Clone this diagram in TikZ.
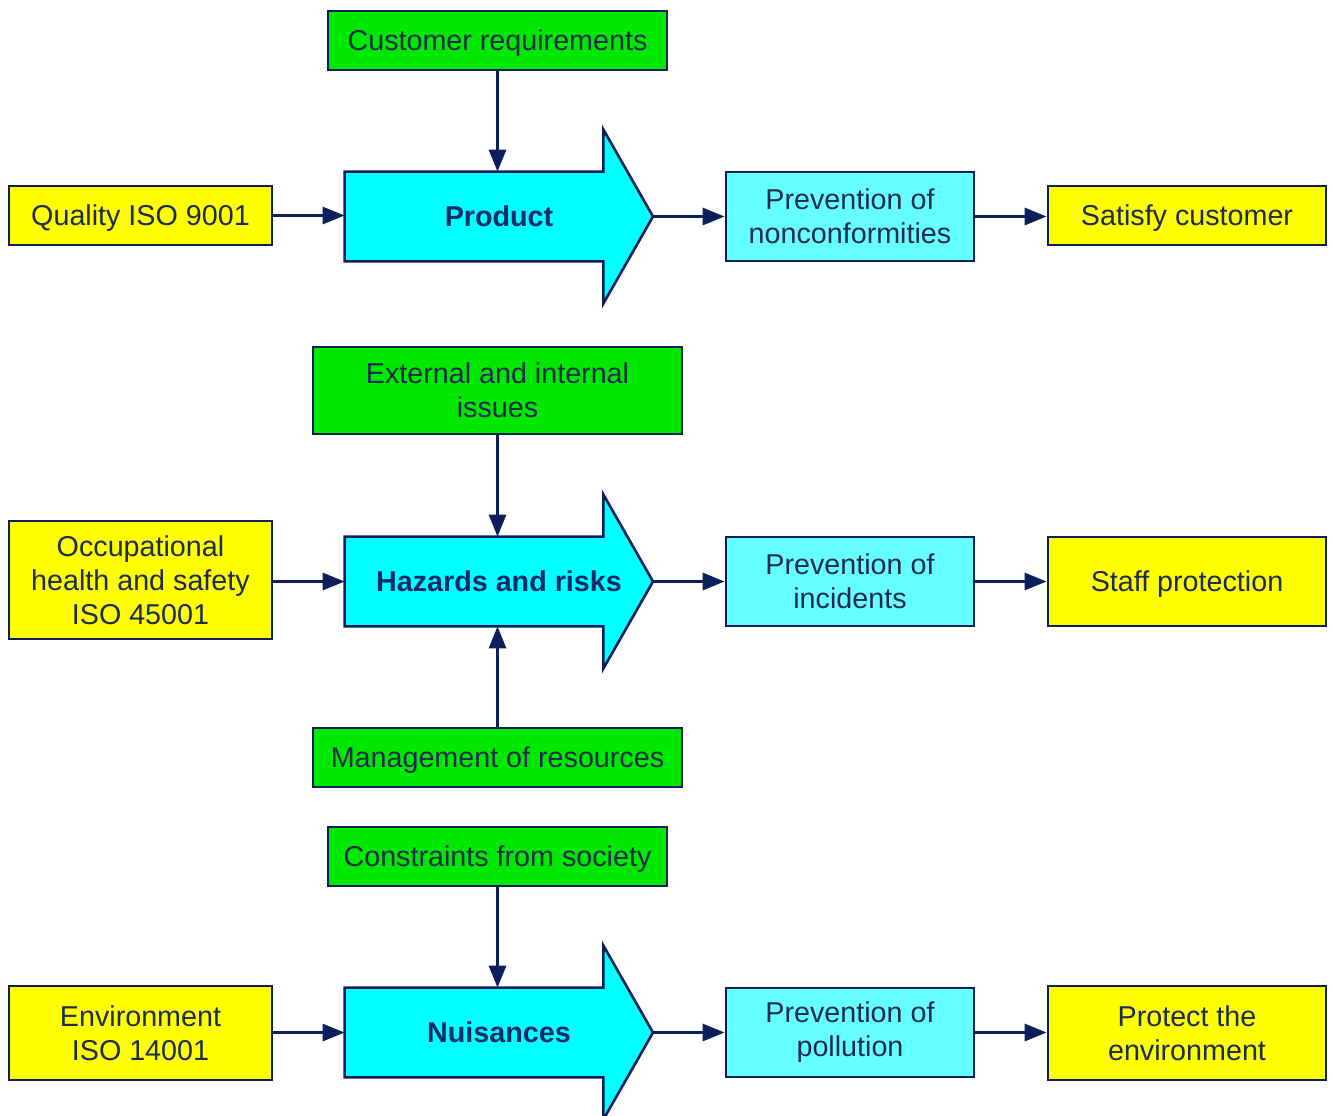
\documentclass[tikz,border=0pt]{standalone}
\usepackage{fontspec}
\setmainfont{Liberation Sans}
\usetikzlibrary{arrows.meta}
\definecolor{navy}{HTML}{0C1F5A}
\definecolor{txt}{HTML}{1D2C4C}
\definecolor{btxt}{HTML}{0D2A6A}
\definecolor{yel}{HTML}{FFFF00}
\definecolor{grn}{HTML}{00E800}
\definecolor{cyn}{HTML}{00FFFF}
\definecolor{lcyn}{HTML}{66FFFF}
\tikzset{
 box/.style={draw=navy, line width=1.4pt, inner sep=0pt, align=center, text=txt, font=\fontsize{14.35}{17}\selectfont},
 ybox/.style={box, fill=yel},
 gbox/.style={box, fill=grn},
 cbox/.style={box, fill=lcyn},
 oneline/.style={text depth=0pt},
 bigarrow/.style={draw=navy, fill=cyn, line width=1.3pt, line join=miter},
 bodybox/.style={inner sep=0pt, minimum width=129pt, minimum height=44.5pt},
 atext/.style={font=\bfseries\fontsize{14.35}{17}\selectfont, text=btxt},
 conn/.style={draw=navy, line width=1.5pt, -{Triangle[length=11pt,width=8.5pt]}},
}
\begin{document}
\begin{tikzpicture}[x=0.5pt,y=-0.5pt]
\useasboundingbox (0,0) rectangle (1332,1115);
\clip (0,0) rectangle (1332,1115);
\fill[white] (0,0) rectangle (1332,1115);

% ---------- Row 1 ----------
\node[bodybox] (b1) at (474,216.5) {};
\coordinate (t1) at (653,216.5);
\path[bigarrow] (b1.north west) -- (b1.north east) -- ([yshift=21pt]b1.north east) -- (t1)
  -- ([yshift=-21pt]b1.south east) -- (b1.south east) -- (b1.south west) -- cycle;
\node[atext] (a1) at (499,216.5) {Product};

\node[gbox, oneline, minimum width=169.5pt, minimum height=29.5pt] (cust) at (497.5,40.5) {Customer requirements};
\node[ybox, oneline, minimum width=131.5pt, minimum height=29.5pt] (qual) at (140.5,215.5) {Quality ISO 9001};
\node[cbox, minimum width=124pt, minimum height=44.5pt] (pv1) at (850,216.5) {Prevention of\\nonconformities};
\node[ybox, oneline, minimum width=139pt, minimum height=29.5pt] (sat) at (1187,215.5) {Satisfy customer};

\draw[conn] (cust.south) -- (cust.south |- b1.north);
\draw[conn] (qual.east) -- (qual.east -| b1.west);
\draw[conn] (t1) -- (pv1.west);
\draw[conn] (pv1.east) -- (pv1.east -| sat.west);

% ---------- Row 2 ----------
\node[bodybox] (b2) at (474,581.5) {};
\coordinate (t2) at (653,581.5);
\path[bigarrow] (b2.north west) -- (b2.north east) -- ([yshift=21pt]b2.north east) -- (t2)
  -- ([yshift=-21pt]b2.south east) -- (b2.south east) -- (b2.south west) -- cycle;
\node[atext] (a2) at (499,581.5) {Hazards and risks};

\node[gbox, minimum width=184.5pt, minimum height=43.5pt] (ext) at (497.5,390.5) {External and internal\\issues};
\node[ybox, minimum width=131.5pt, minimum height=59pt] (occ) at (140.5,580) {Occupational\\health and safety\\ISO 45001};
\node[cbox, minimum width=124pt, minimum height=44.5pt] (pv2) at (850,581.5) {Prevention of\\incidents};
\node[ybox, oneline, minimum width=139pt, minimum height=44.5pt] (staff) at (1187,581.5) {Staff protection};
\node[gbox, oneline, minimum width=184.5pt, minimum height=29.5pt] (mgmt) at (497.5,757.5) {Management of resources};

\draw[conn] (ext.south) -- (ext.south |- b2.north);
\draw[conn] (occ.east |- b2.west) -- (b2.west);
\draw[conn] (t2) -- (pv2.west);
\draw[conn] (pv2.east) -- (staff.west);
\draw[conn] (mgmt.north) -- (mgmt.north |- b2.south);

% ---------- Row 3 ----------
\node[bodybox] (b3) at (474,1032.5) {};
\coordinate (t3) at (653,1032.5);
\path[bigarrow] (b3.north west) -- (b3.north east) -- ([yshift=21pt]b3.north east) -- (t3)
  -- ([yshift=-21pt]b3.south east) -- (b3.south east) -- (b3.south west) -- cycle;
\node[atext] (a3) at (499,1032.5) {Nuisances};

\node[gbox, oneline, minimum width=169.5pt, minimum height=29.5pt] (cons) at (497.5,856.5) {Constraints from society};
\node[ybox, minimum width=131.5pt, minimum height=47pt] (env) at (140.5,1033) {Environment\\ISO 14001};
\node[cbox, minimum width=124pt, minimum height=44.5pt] (pv3) at (850,1032.5) {Prevention of\\pollution};
\node[ybox, minimum width=139pt, minimum height=47pt] (prot) at (1187,1033) {Protect the\\environment};

\draw[conn] (cons.south) -- (cons.south |- b3.north);
\draw[conn] (env.east |- b3.west) -- (b3.west);
\draw[conn] (t3) -- (pv3.west);
\draw[conn] (pv3.east) -- (pv3.east -| prot.west);
\end{tikzpicture}
\end{document}
